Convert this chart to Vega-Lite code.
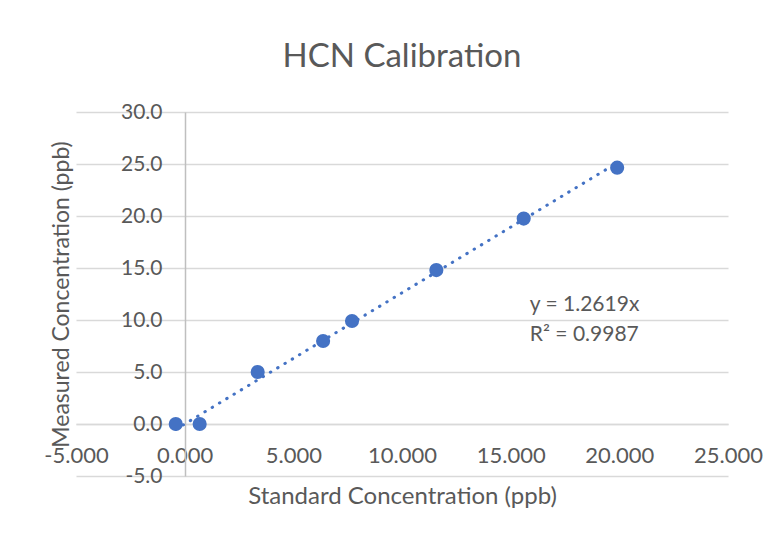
{
  "$schema": "https://vega.github.io/schema/vega-lite/v6.json",
  "autosize": "none",
  "width": 652,
  "height": 364,
  "padding": {"left": 76, "top": 112, "right": 46, "bottom": 64},
  "background": "white",
  "title": {
    "text": "HCN Calibration",
    "font": "Lato",
    "fontSize": 33,
    "fontWeight": "normal",
    "color": "#595959",
    "anchor": "middle",
    "offset": 27
  },
  "config": {
    "view": {"stroke": null},
    "font": "Lato"
  },
  "datasets": {
    "points": [
      {"standard": -0.41, "measured": 0.0},
      {"standard": 0.69, "measured": 0.0},
      {"standard": 3.36, "measured": 5.0},
      {"standard": 6.37, "measured": 7.98},
      {"standard": 7.7, "measured": 9.9},
      {"standard": 11.58, "measured": 14.8},
      {"standard": 15.6, "measured": 19.75},
      {"standard": 19.9, "measured": 24.65}
    ],
    "trend": [
      {"standard": -0.41, "measured": -0.52},
      {"standard": 19.9, "measured": 25.11}
    ],
    "label": [
      {"standard": 15.88, "measured": 11.44, "text": "y = 1.2619x"},
      {"standard": 15.88, "measured": 8.56, "text": "R² = 0.9987"}
    ]
  },
  "encoding": {
    "x": {
      "field": "standard",
      "type": "quantitative",
      "scale": {"domain": [-5, 25], "nice": false, "zero": false},
      "axis": {
        "title": "Standard Concentration (ppb)",
        "values": [-5, 0, 5, 10, 15, 20, 25],
        "labelExpr": "replace(format(datum.value, '.3f'), '−', '-')",
        "offset": -52,
        "grid": false,
        "ticks": false,
        "domain": true,
        "domainColor": "#d9d9d9",
        "domainWidth": 1.5,
        "labelFont": "Lato",
        "labelFontSize": 22,
        "labelColor": "#595959",
        "labelPadding": 21,
        "labelFlush": false,
        "labelOverlap": false,
        "titleFont": "Lato",
        "titleFontSize": 24,
        "titleFontWeight": "normal",
        "titleColor": "#595959",
        "titlePadding": 18
      }
    },
    "y": {
      "field": "measured",
      "type": "quantitative",
      "scale": {"domain": [-5, 30], "nice": false, "zero": false},
      "axis": {
        "title": "Measured Concentration (ppb)",
        "values": [-5, 0, 5, 10, 15, 20, 25, 30],
        "labelExpr": "replace(format(datum.value, '.1f'), '−', '-')",
        "offset": -109,
        "grid": true,
        "gridColor": "#d9d9d9",
        "gridWidth": 1.5,
        "ticks": false,
        "domain": true,
        "domainColor": "#bfbfbf",
        "domainWidth": 1.5,
        "labelFont": "Lato",
        "labelFontSize": 21,
        "labelColor": "#595959",
        "labelPadding": 23,
        "labelFlush": false,
        "labelOverlap": false,
        "titleFont": "Lato",
        "titleFontSize": 23,
        "titleFontWeight": "normal",
        "titleColor": "#595959",
        "titlePadding": 47
      }
    }
  },
  "layer": [
    {
      "data": {"name": "trend"},
      "mark": {"type": "line", "color": "#4472c4", "strokeWidth": 3, "strokeDash": [0.5, 8], "strokeCap": "round"}
    },
    {
      "data": {"name": "points"},
      "mark": {"type": "point", "filled": true, "color": "#4472c4", "opacity": 1, "size": 200}
    },
    {
      "data": {"name": "label"},
      "mark": {"type": "text", "align": "left", "baseline": "middle", "font": "Lato", "fontSize": 21, "color": "#595959"},
      "encoding": {"text": {"field": "text"}}
    }
  ]
}
